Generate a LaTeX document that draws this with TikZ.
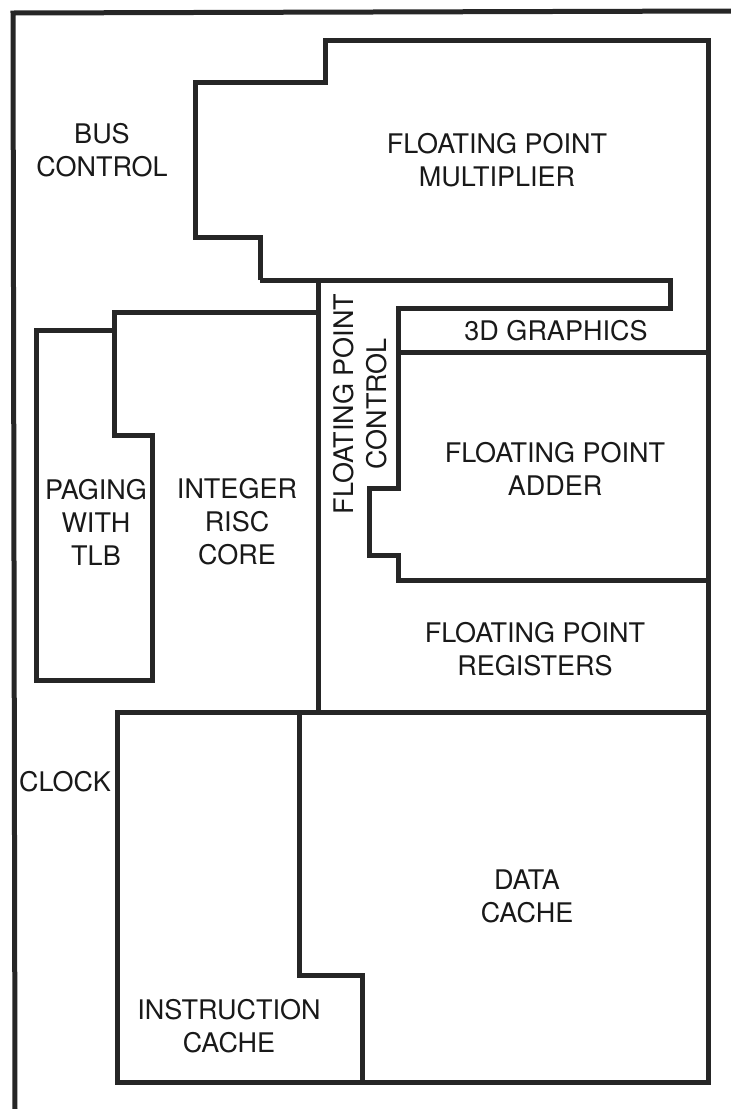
\documentclass[tikz,border=0pt]{standalone}
\usepackage{fontspec}
\setmainfont{TeX Gyre Heros}
\begin{document}
\begin{tikzpicture}[x=1pt, y=-1pt,
  wall/.style={line width=5pt, line join=miter, black!85},
  lbl/.style={align=center, font=\fontsize{27}{33}\selectfont, inner sep=0pt, text=black!90}]
\useasboundingbox (0,0) rectangle (731,1109);

% Chip frame
\draw[wall] (731,11) -- (13,13) -- (15,1109);

% Outline of multiplier, right edge and caches
\draw[wall] (260,280) -- (260,237) -- (195,237) -- (195,82) -- (325,82) -- (325,40)
  -- (708,40) -- (708,1082) -- (117,1082) -- (117,712) -- (708,712);

% Floating point control channel
\draw[wall] (260,280) -- (670,280) -- (670,308) -- (398,308) -- (398,488)
  -- (369,488) -- (369,555) -- (398,555) -- (398,580) -- (708,580);
\draw[wall] (398,352) -- (708,352);
\draw[wall] (318,280) -- (318,712);

% Integer core and paging
\draw[wall] (318,312) -- (114,312) -- (114,435) -- (152,435) -- (152,680)
  -- (36,680) -- (36,330) -- (114,330);

% Instruction / data cache split
\draw[wall] (299,712) -- (299,975) -- (362,975) -- (362,1082);

% Labels
\node[lbl] (bus) at (102,150) {BUS\\CONTROL};
\node[lbl] (fpmul) at (497,160) {FLOATING POINT\\MULTIPLIER};
\node[lbl] (gfx) at (556,331) {3D GRAPHICS};
\node[lbl, rotate=90] (fpctl) at (360,404) {FLOATING POINT\\CONTROL};
\node[lbl] (fpadd) at (555,469) {FLOATING POINT\\ADDER};
\node[lbl] (paging) at (96,522) {PAGING\\WITH\\TLB};
\node[lbl] (intcore) at (237,522) {INTEGER\\RISC\\CORE};
\node[lbl] (fpreg) at (535,649) {FLOATING POINT\\REGISTERS};
\node[lbl] (clock) at (65,782) {CLOCK};
\node[lbl] (dcache) at (527,896) {DATA\\CACHE};
\node[lbl] (icache) at (229,1026) {INSTRUCTION\\CACHE};
\end{tikzpicture}
\end{document}
